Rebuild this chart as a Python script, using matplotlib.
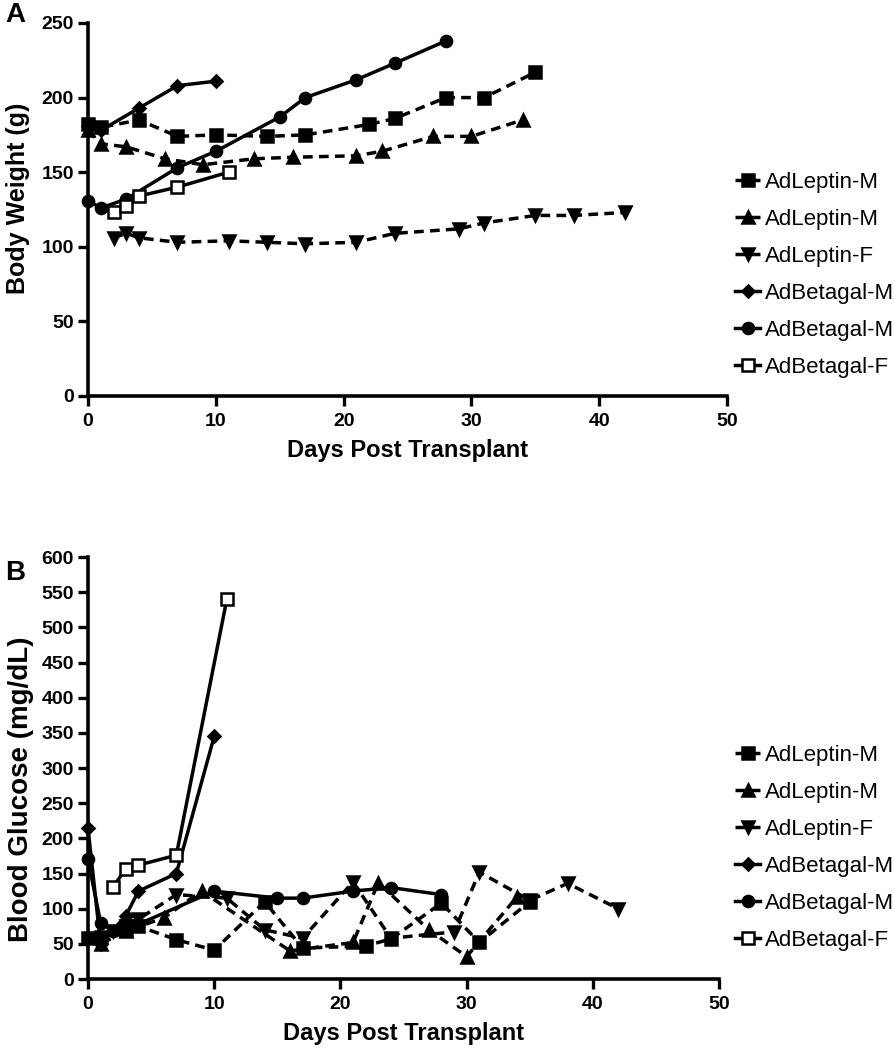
import matplotlib
matplotlib.use("Agg")
import matplotlib.pyplot as plt

plt.rcParams['font.family'] = ['Liberation Sans', 'DejaVu Sans']

labels = ["AdLeptin-M", "AdLeptin-M", "AdLeptin-F",
          "AdBetagal-M", "AdBetagal-M", "AdBetagal-F"]

# panel A - body weight (g)
wt_lep_m1_days = [0, 1, 4, 7, 10, 14, 17, 22, 24, 28, 31, 35]
wt_lep_m1 = [182, 180, 185, 174, 175, 174, 175, 182, 186, 200, 200, 217]
wt_lep_m2_days = [0, 1, 3, 6, 9, 13, 16, 21, 23, 27, 30, 34]
wt_lep_m2 = [178, 169, 167, 159, 155, 159, 160, 161, 164, 174, 174, 185]
wt_lep_f_days = [2, 3, 4, 7, 11, 14, 17, 21, 24, 29, 31, 35, 38, 42]
wt_lep_f = [106, 109, 106, 103, 104, 103, 102, 103, 109, 112, 116, 121, 121, 123]
wt_bg_m1_days = [0, 1, 4, 7, 10]
wt_bg_m1 = [181, 178, 193, 208, 211]
wt_bg_m2_days = [0, 1, 3, 7, 10, 15, 17, 21, 24, 28]
wt_bg_m2 = [131, 126, 132, 153, 164, 187, 200, 212, 223, 238]
wt_bg_f_days = [2, 3, 4, 7, 11]
wt_bg_f = [123, 127, 134, 140, 150]

# panel B - blood glucose (mg/dL)
gl_lep_m1_days = [0, 1, 3, 4, 7, 10, 14, 17, 22, 24, 28, 31, 35]
gl_lep_m1 = [58, 60, 70, 75, 56, 41, 110, 44, 47, 57, 108, 52, 110]
gl_lep_m2_days = [0, 1, 3, 6, 9, 16, 21, 23, 27, 30, 34]
gl_lep_m2 = [60, 50, 68, 87, 125, 40, 52, 137, 70, 32, 117]
gl_lep_f_days = [2, 3, 4, 7, 11, 14, 17, 21, 24, 29, 31, 35, 38, 42]
gl_lep_f = [68, 75, 85, 120, 115, 70, 58, 138, 58, 67, 152, 112, 136, 100]
gl_bg_m1_days = [0, 1, 3, 4, 7, 10]
gl_bg_m1 = [215, 50, 90, 125, 150, 345]
gl_bg_m2_days = [0, 1, 2, 4, 10, 15, 17, 21, 24, 28]
gl_bg_m2 = [170, 80, 68, 78, 125, 115, 115, 125, 130, 120]
gl_bg_f_days = [2, 3, 4, 7, 11]
gl_bg_f = [131, 157, 162, 176, 540]

dash = (2.8, 1.8)
styles = [
    dict(marker='s', ls='--', dashes=dash, mfc='k'),
    dict(marker='^', ls='--', dashes=dash, mfc='k'),
    dict(marker='v', ls='--', dashes=dash, mfc='k'),
    dict(marker='D', ls='-', mfc='k', ms=6),
    dict(marker='o', ls='-', mfc='k'),
    dict(marker='s', ls='-', mfc='white'),
]


def draw(ax, series, ymax, ylabel, ylabel_size, ylabel_xy, letter,
         letter_y, legend_top):
    for (d, v), lab, st in zip(series, labels, styles):
        st = dict(st)
        ms = st.pop('ms', 8)
        ax.plot(d, v, color='k', lw=2.5, ms=ms, mec='k', mew=1.8,
                label=lab, clip_on=False, zorder=3, **st)
    ax.set_xlim(0, 50)
    ax.set_ylim(0, ymax)
    ax.set_xticks(range(0, 51, 10))
    ax.set_yticks(range(0, ymax + 1, 50))
    for s in ['top', 'right']:
        ax.spines[s].set_visible(False)
    for s in ['left', 'bottom']:
        ax.spines[s].set_linewidth(2.6)
    ax.tick_params(width=2.4, length=7, direction='out', pad=3,
                   labelsize=14)
    ax.tick_params(axis='x', pad=5)
    for t in ax.get_xticklabels() + ax.get_yticklabels():
        t.set_fontweight('bold')
    ax.set_xlabel("Days Post Transplant", fontweight='bold', fontsize=17,
                  labelpad=7)
    ax.set_ylabel(ylabel, fontweight='bold', fontsize=ylabel_size)
    ax.yaxis.set_label_coords(*ylabel_xy)
    fig.text(0.006, letter_y, letter, fontweight='bold', fontsize=20,
             va='top')
    ax.legend(loc='upper left', bbox_to_anchor=(0.812, legend_top),
              bbox_transform=fig.transFigure, frameon=False,
              prop={'size': 16}, handlelength=1.15,
              handletextpad=0.22, labelspacing=0.72, borderaxespad=0)


fig = plt.figure(figsize=(8.94, 10.5), dpi=100)
ax1 = fig.add_axes([0.0984, 0.6229, 0.715, 0.3552])
ax2 = fig.add_axes([0.0984, 0.0676, 0.706, 0.4019])

draw(ax1, [(wt_lep_m1_days, wt_lep_m1), (wt_lep_m2_days, wt_lep_m2),
           (wt_lep_f_days, wt_lep_f), (wt_bg_m1_days, wt_bg_m1),
           (wt_bg_m2_days, wt_bg_m2), (wt_bg_f_days, wt_bg_f)],
     250, "Body Weight (g)", 18, (-0.09, 0.53), 'A', 0.998, 1 - 163 / 1050)
draw(ax2, [(gl_lep_m1_days, gl_lep_m1), (gl_lep_m2_days, gl_lep_m2),
           (gl_lep_f_days, gl_lep_f), (gl_bg_m1_days, gl_bg_m1),
           (gl_bg_m2_days, gl_bg_m2), (gl_bg_f_days, gl_bg_f)],
     600, "Blood Glucose (mg/dL)", 20, (-0.086, 0.45), 'B', 1 - 560 / 1050,
     1 - 736 / 1050)

fig.savefig("out.png", dpi=100)
